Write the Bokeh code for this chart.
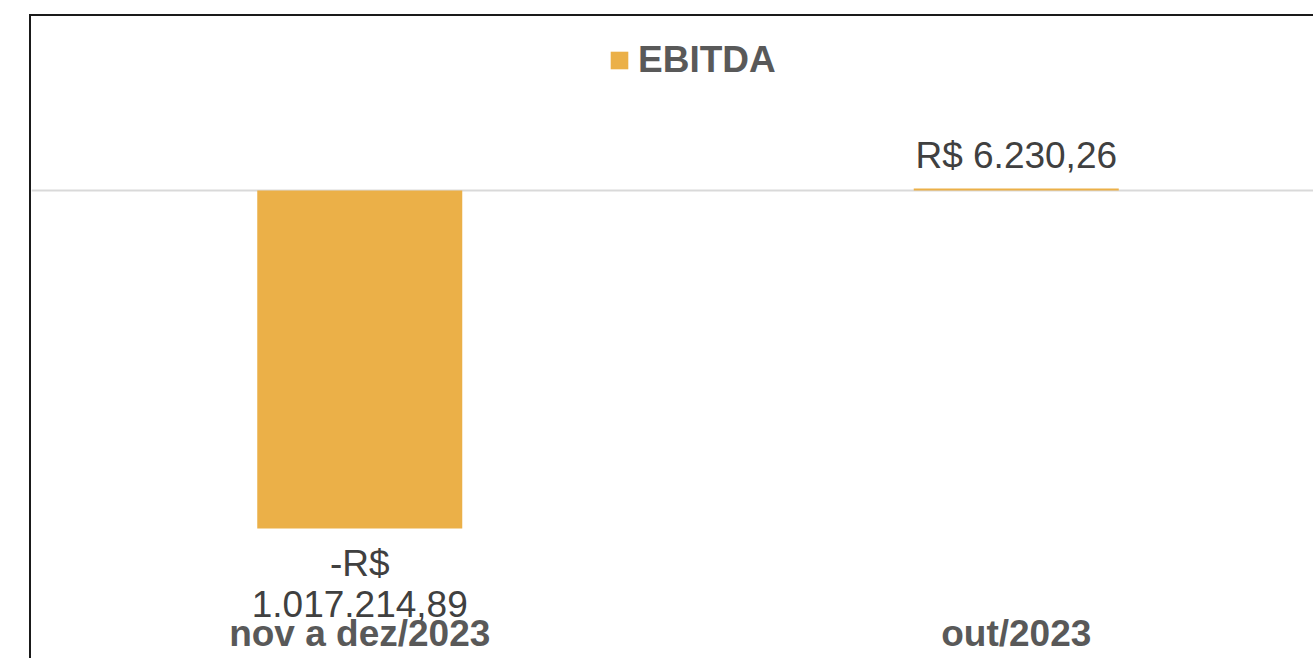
from bokeh.plotting import figure
from bokeh.models import ColumnDataSource, Range1d, Span, Legend, LegendItem
from bokeh.core.properties import value
from bokeh.embed import file_html
from bokeh.resources import INLINE

# ---- data ----
categories = ["nov a dez/2023", "out/2023"]
ebitda = [-1017214.89, 6230.26]
series_name = "EBITDA"

BAR_COLOR = "#EBB048"
FONT = "Liberation Sans"


def brl(v):
    s = f"{abs(v):,.2f}".replace(",", "X").replace(".", ",").replace("X", ".")
    return ("-R$\n" + s) if v < 0 else ("R$ " + s)


# ---- layout constants ----
W, H = 1284, 644
px_per_cat = 656.5
units_per_px = 3009.5
zero_px_from_top = 174

xs = [i + 0.5 for i in range(len(categories))]
labels = [brl(v) for v in ebitda]

p = figure(width=W, height=H, output_backend="svg", toolbar_location=None,
           x_axis_type=None, y_axis_type=None,
           x_range=Range1d(0, W / px_per_cat),
           y_range=Range1d(-(H - zero_px_from_top) * units_per_px, zero_px_from_top * units_per_px),
           min_border=0, min_border_left=0, min_border_right=0,
           min_border_top=0, min_border_bottom=0,
           margin=(14, 0, 0, 29),
           styles={"border-left": "2px solid #1a1a1a", "border-top": "2px solid #1a1a1a"})
p.outline_line_color = None
p.grid.visible = False
p.background_fill_color = "white"
p.border_fill_color = "white"

p.add_layout(Span(location=0, dimension="width", line_color="#D9D9D9", line_width=2, level="underlay"))

src = ColumnDataSource(dict(x=xs, top=ebitda, cat=categories, label=labels))
bars = p.vbar(x="x", top="top", bottom=0, width=205 / px_per_cat, source=src,
              fill_color=BAR_COLOR, line_color=None)

pos = ColumnDataSource(dict(x=[x for x, v in zip(xs, ebitda) if v >= 0],
                            y=[v for v in ebitda if v >= 0],
                            t=[l for l, v in zip(labels, ebitda) if v >= 0]))
neg = ColumnDataSource(dict(x=[x for x, v in zip(xs, ebitda) if v < 0],
                            y=[v for v in ebitda if v < 0],
                            t=[l for l, v in zip(labels, ebitda) if v < 0]))
p.text(x="x", y="y", text="t", source=pos, text_align="center", text_baseline="alphabetic",
       y_offset=-33, text_font=value(FONT), text_font_size="37px", text_color="#404040")
p.text(x="x", y="y", text="t", source=neg, text_align="center", text_baseline="top",
       y_offset=14, text_font=value(FONT), text_font_size="37px", text_color="#404040",
       text_line_height=1.0)

# category labels (inside chart area)
cat_src = ColumnDataSource(dict(x=xs, y=[p.y_range.start] * len(xs), t=categories))
p.text(x="x", y="y", text="t", source=cat_src, text_align="center", text_baseline="middle",
       y_offset=-27, text_font=value(FONT), text_font_size="37px", text_font_style="bold",
       text_color="#595959")

legend = Legend(items=[LegendItem(label=series_name, renderers=[bars])],
                location=(577, 579), orientation="horizontal",
                glyph_width=22, glyph_height=22, label_standoff=8,
                padding=0, margin=0, spacing=0,
                border_line_color=None, background_fill_alpha=0,
                label_text_font=FONT, label_text_font_size="37px",
                label_text_font_style="bold", label_text_color="#595959")
p.add_layout(legend)

open("out.html", "w").write(file_html(p, INLINE))
